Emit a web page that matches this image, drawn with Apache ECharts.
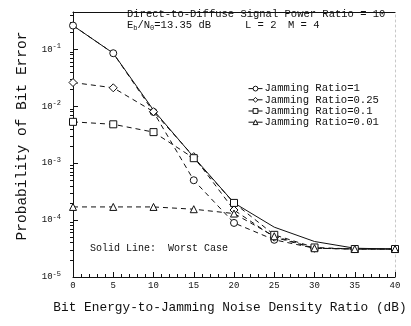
<!DOCTYPE html>
<html>
<head>
<meta charset="utf-8">
<script src="https://cdn.jsdelivr.net/npm/echarts@6/dist/echarts.min.js"></script>
<style>
  html, body { margin: 0; padding: 0; background: #fff; }
  #chart { width: 411px; height: 326px; }
</style>
</head>
<body>
<div id="chart"></div>
<script>
// Eb/NJ values (dB) at which every curve is evaluated
const snrDb = [0, 5, 10, 15, 20, 25, 30, 35, 40];

// Bit error probability curves
const worstCase = [0.26, 0.085, 0.0085, 0.00127, 2.0e-4, 7.5e-5, 4.2e-5, 3.2e-5, 3.1e-5];
const jamRatio1 = [0.26, 0.085, 0.0079, 5.0e-4, 8.9e-5, 4.5e-5, 3.2e-5, 3.1e-5, 3.1e-5];
const jamRatio025 = [0.026, 0.021, 0.0080, 0.0013, 1.5e-4, 5.0e-5, 3.2e-5, 3.1e-5, 3.1e-5];
const jamRatio01 = [0.0053, 0.0048, 0.0035, 0.00122, 2.0e-4, 5.5e-5, 3.3e-5, 3.1e-5, 3.1e-5];
const jamRatio001 = [1.7e-4, 1.7e-4, 1.7e-4, 1.55e-4, 1.3e-4, 5.2e-5, 3.2e-5, 3.1e-5, 3.1e-5];

const seriesNames = ['Jamming Ratio=1', 'Jamming Ratio=0.25', 'Jamming Ratio=0.1', 'Jamming Ratio=0.01'];

// Axis tick values
const xTickValues = [0, 5, 10, 15, 20, 25, 30, 35, 40];
const yDecades = [1e-5, 1e-4, 1e-3, 1e-2, 1e-1];
const yMinorMultipliers = [2, 3, 4, 5, 6, 7, 8, 9];

const yMinorTicks = [];
yDecades.forEach(d => yMinorMultipliers.forEach(m => {
  if (d * m < 0.45) yMinorTicks.push(d * m);
}));

const MONO = '"Liberation Mono", "DejaVu Sans Mono", monospace';
const INK = '#111';

const pairs = arr => arr.map((v, i) => [snrDb[i], v]);

function jamSeries(name, values, symbol, size) {
  return {
    name: name,
    type: 'line',
    data: pairs(values),
    symbol: symbol,
    symbolSize: size,
    showSymbol: true,
    itemStyle: { color: '#fff', borderColor: INK, borderWidth: 1 },
    lineStyle: { color: INK, width: 1, type: [5, 4] },
    z: 3
  };
}

const chart = echarts.init(document.getElementById('chart'), null, { renderer: 'canvas' });

chart.setOption({
  animation: false,
  backgroundColor: '#fff',
  grid: { left: 73, right: 16, top: 12, bottom: 49 },
  xAxis: [
    {
      type: 'value',
      min: 0, max: 40, interval: 5,
      axisLine: { lineStyle: { color: INK, width: 1 } },
      axisTick: { inside: true, length: 5, lineStyle: { color: INK } },
      minorTick: { show: true, splitNumber: 5, length: 3, lineStyle: { color: INK } },
      splitLine: { show: false },
      axisLabel: {
        customValues: xTickValues,
        fontFamily: MONO, fontSize: 9, color: INK, margin: 4
      },
      name: 'Bit Energy-to-Jamming Noise Density Ratio (dB)',
      nameLocation: 'middle',
      nameGap: 24,
      nameTextStyle: { fontFamily: MONO, fontSize: 12.8, color: INK, padding: [0, 8, 0, 0] }
    },
    {
      type: 'value', position: 'top',
      min: 0, max: 40,
      axisLine: { show: true, lineStyle: { color: INK, width: 1.2 } },
      axisTick: { show: false }, axisLabel: { show: false }, splitLine: { show: false }
    }
  ],
  yAxis: [
    {
      type: 'log', logBase: 10,
      min: 1e-5, max: 0.45,
      axisLine: { show: true, lineStyle: { color: INK, width: 1 } },
      axisTick: { show: true, inside: true, length: 5, customValues: yDecades, lineStyle: { color: INK } },
      splitLine: { show: false },
      axisLabel: {
        customValues: yDecades,
        margin: 12,
        fontFamily: MONO, fontSize: 9, color: INK,
        formatter: v => '10{s|' + Math.round(Math.log10(v)) + '}',
        rich: { s: { fontFamily: MONO, fontSize: 7, color: INK, padding: [0, 0, 6, 0] } }
      }
    },
    {
      type: 'log', logBase: 10,
      min: 1e-5, max: 0.45,
      axisLine: { show: false },
      axisTick: { show: true, inside: true, length: 3, customValues: yMinorTicks, lineStyle: { color: INK } },
      axisLabel: { show: false },
      splitLine: { show: false }
    },
    {
      type: 'log', logBase: 10, position: 'right',
      min: 1e-5, max: 0.45,
      axisLine: { show: true, lineStyle: { color: '#c8c8c8', width: 1, type: [2, 3] } },
      axisTick: { show: false }, axisLabel: { show: false }, splitLine: { show: false }
    }
  ],
  legend: {
    data: seriesNames,
    orient: 'vertical',
    left: 243, top: 78,
    itemWidth: 14, itemHeight: 6, itemGap: 0,
    itemStyle: { color: '#fff', borderColor: INK, borderWidth: 1 },
    lineStyle: { color: INK, width: 1, type: 'solid' },
    textStyle: { fontFamily: MONO, fontSize: 10.6, lineHeight: 11.2, color: INK, padding: [0, 0, 0, -3] }
  },
  graphic: [
    {
      type: 'text', left: 127, top: 9,
      style: { text: 'Direct-to-Diffuse Signal Power Ratio = 10', font: '10.5px ' + MONO, fill: INK }
    },
    {
      type: 'text', left: 127, top: 20,
      style: {
        text: 'E{b|b}/N{b|0}=13.35 dB',
        font: '10.5px ' + MONO, fill: INK,
        rich: { b: { fontSize: 7, fontFamily: MONO, fill: INK, padding: [6, 0, 0, 0] } }
      }
    },
    {
      type: 'text', left: 245, top: 20,
      style: { text: 'L = 2', font: '10.5px ' + MONO, fill: INK }
    },
    {
      type: 'text', left: 288, top: 20,
      style: { text: 'M = 4', font: '10.5px ' + MONO, fill: INK }
    },
    {
      type: 'text', left: 90, top: 243,
      style: { text: 'Solid Line:  Worst Case', font: '10px ' + MONO, fill: INK }
    },
    {
      type: 'text', x: 22, y: 136, rotation: Math.PI / 2,
      style: {
        text: 'Probability of Bit Error', font: '14.5px ' + MONO, fill: INK,
        align: 'center', verticalAlign: 'middle'
      }
    }
  ],
  series: [
    {
      name: 'Worst Case',
      type: 'line',
      data: pairs(worstCase),
      symbol: 'none',
      lineStyle: { color: INK, width: 1 },
      z: 2
    },
    jamSeries(seriesNames[0], jamRatio1, 'circle', 7),
    jamSeries(seriesNames[1], jamRatio025, 'diamond', 8),
    jamSeries(seriesNames[2], jamRatio01, 'rect', 7),
    jamSeries(seriesNames[3], jamRatio001, 'triangle', 7)
  ]
});
</script>
</body>
</html>
